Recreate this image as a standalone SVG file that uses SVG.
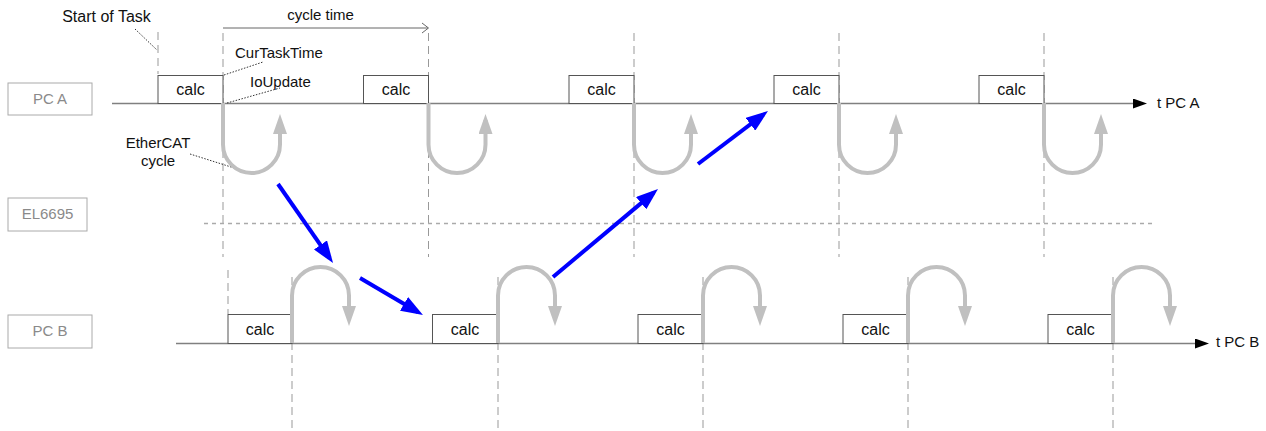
<svg xmlns="http://www.w3.org/2000/svg" width="1266" height="431" viewBox="0 0 1266 431">
<style>
text{font-family:"Liberation Sans",Arial,sans-serif;font-size:15px;fill:#111}
.calc{font-size:16px;text-anchor:middle}
.lbl{fill:#8a8a8a;text-anchor:middle}
.lblbox{fill:#fff;stroke:#aaa;stroke-width:1}
.box{fill:#fff;stroke:#555;stroke-width:1}
.axis{stroke:#808080;stroke-width:1.5;fill:none}
.dash{stroke:#999;stroke-width:1;stroke-dasharray:8,5;fill:none}
.lead{stroke:#333;stroke-width:1;stroke-dasharray:1.5,1.5;fill:none}
.loop{stroke:#c0c0c0;stroke-width:4;fill:none}
.blue{stroke:#0000ff;stroke-width:4;fill:none}
</style>
<defs>
<marker id="ax" viewBox="0 0 14 10" refX="0" refY="5" markerWidth="14" markerHeight="10" markerUnits="userSpaceOnUse" orient="auto"><path d="M0,0 L14,5 L0,10 z" fill="#000"/></marker>
<marker id="gh" viewBox="0 0 20 14" refX="14" refY="7" markerWidth="20" markerHeight="14" markerUnits="userSpaceOnUse" orient="auto"><path d="M0,0 L20,7 L0,14 z" fill="#c0c0c0"/></marker>
<marker id="bh" viewBox="0 0 22 16" refX="16" refY="8" markerWidth="22" markerHeight="16" markerUnits="userSpaceOnUse" orient="auto"><path d="M0,0 L22,8 L0,16 z" fill="#0000ff"/></marker>
</defs>

<g id="labels">
<g id="pca-label"><rect class="lblbox" x="8" y="83" width="84" height="32"/><text class="lbl" x="50" y="104">PC A</text></g>
<g id="el6695-label"><rect class="lblbox" x="8" y="198" width="79" height="33"/><text class="lbl" x="47.5" y="219">EL6695</text></g>
<g id="pcb-label"><rect class="lblbox" x="8" y="315" width="84" height="33"/><text class="lbl" x="50" y="336">PC B</text></g>
</g>

<g id="guides">
<path class="dash" d="M158,32 V74"/>
<path class="dash" d="M223,33 V257 M428.5,33 V257 M634,33 V257 M839,33 V257 M1044,33 V257"/>
<path class="dash" d="M228,270 V314"/>
<path class="dash" d="M292,277 V431 M498,277 V431 M703,277 V431 M908,277 V431 M1113,277 V431"/>
<path d="M204,223.5 H1152" stroke="#aaa" stroke-width="1.5" stroke-dasharray="4,4" fill="none"/>
</g>

<g id="pc-a">
<path class="axis" d="M112,103.5 H1133" marker-end="url(#ax)"/>
<text x="1157" y="108">t PC A</text>
<rect class="box" x="158" y="75.5" width="65" height="28"/><text class="calc" x="190.5" y="95">calc</text>
<rect class="box" x="363.5" y="75.5" width="65" height="28"/><text class="calc" x="396" y="95">calc</text>
<rect class="box" x="569" y="75.5" width="65" height="28"/><text class="calc" x="601.5" y="95">calc</text>
<rect class="box" x="774" y="75.5" width="65" height="28"/><text class="calc" x="806.5" y="95">calc</text>
<rect class="box" x="979" y="75.5" width="65" height="28"/><text class="calc" x="1011.5" y="95">calc</text>
</g>

<g id="pc-b">
<path class="axis" d="M176,343.5 H1195" marker-end="url(#ax)"/>
<text x="1216" y="347">t PC B</text>
<rect class="box" x="228" y="314.5" width="64" height="29"/><text class="calc" x="260" y="335">calc</text>
<rect class="box" x="432.5" y="314.5" width="65.5" height="29"/><text class="calc" x="465" y="335">calc</text>
<rect class="box" x="638" y="314.5" width="65" height="29"/><text class="calc" x="670.5" y="335">calc</text>
<rect class="box" x="843" y="314.5" width="65" height="29"/><text class="calc" x="875.5" y="335">calc</text>
<rect class="box" x="1048" y="314.5" width="65" height="29"/><text class="calc" x="1080.5" y="335">calc</text>
</g>

<g id="annotations">
<text class="calc" x="106.5" y="22">Start of Task</text>
<path class="lead" d="M135,29 L157,50"/>
<path d="M223,28 H428" stroke="#666" stroke-width="1" fill="none"/>
<path d="M422,23 L428.5,28 L422,33" stroke="#666" stroke-width="1" fill="none"/>
<text x="320.5" y="20" text-anchor="middle">cycle time</text>
<text x="235" y="58">CurTaskTime</text>
<path class="lead" d="M224,75 L263,62"/>
<text x="250" y="87">IoUpdate</text>
<path class="lead" d="M227,103 L280,88"/>
<text x="158" y="148" text-anchor="middle">EtherCAT</text>
<text x="158" y="166" text-anchor="middle">cycle</text>
<path class="lead" d="M190,154 L250,173"/>
</g>

<g id="connectors">
<g id="ethercat-loops-a">
<path class="loop" d="M223,103 V144.5 A28.5,28.5 0 0 0 280,144.5 V120" marker-end="url(#gh)"/>
<path class="loop" d="M428.5,103 V144.5 A28.5,28.5 0 0 0 485.5,144.5 V120" marker-end="url(#gh)"/>
<path class="loop" d="M634,103 V144.5 A28.5,28.5 0 0 0 691,144.5 V120" marker-end="url(#gh)"/>
<path class="loop" d="M839,103 V144.5 A28.5,28.5 0 0 0 896,144.5 V120" marker-end="url(#gh)"/>
<path class="loop" d="M1044,103 V144.5 A28.5,28.5 0 0 0 1101,144.5 V120" marker-end="url(#gh)"/>
</g>
<g id="ethercat-loops-b">
<path class="loop" d="M292,343 V295.5 A28.5,28.5 0 0 1 349,295.5 V320" marker-end="url(#gh)"/>
<path class="loop" d="M498,343 V295.5 A28.5,28.5 0 0 1 555,295.5 V320" marker-end="url(#gh)"/>
<path class="loop" d="M703,343 V295.5 A28.5,28.5 0 0 1 760,295.5 V320" marker-end="url(#gh)"/>
<path class="loop" d="M908,343 V295.5 A28.5,28.5 0 0 1 965,295.5 V320" marker-end="url(#gh)"/>
<path class="loop" d="M1113,343 V295.5 A28.5,28.5 0 0 1 1170,295.5 V320" marker-end="url(#gh)"/>
</g>
<g id="data-flow">
<path class="blue" d="M278,184 L329.6,258.1" marker-end="url(#bh)"/>
<path class="blue" d="M360,278 L417.8,312" marker-end="url(#bh)"/>
<path class="blue" d="M553,277 L653.4,192.9" marker-end="url(#bh)"/>
<path class="blue" d="M698,164 L763.2,114.6" marker-end="url(#bh)"/>
</g>
</g>
</svg>
